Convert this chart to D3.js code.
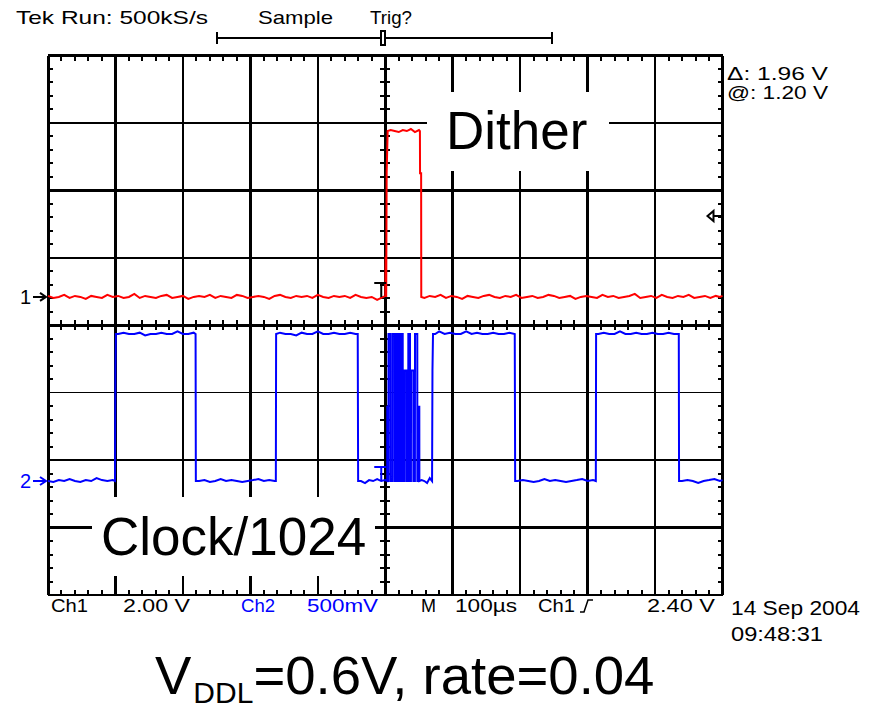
<!DOCTYPE html>
<html>
<head>
<meta charset="utf-8">
<script src="https://cdn.jsdelivr.net/npm/d3@7"></script>
<style>
  html, body { margin: 0; padding: 0; background: #fff; }
  svg { display: block; }
  .scope { font-family: "Liberation Sans", Arial, sans-serif; }
</style>
</head>
<body>
<svg id="chart" width="879" height="710"></svg>
<script>
// ---- Acquisition settings -------------------------------------------------
const timeTicksUs = [-500, -400, -300, -200, -100, 0, 100, 200, 300, 400, 500];
const divTicks = [-4, -3, -2, -1, 0, 1, 2, 3, 4];
const ch1VoltsPerDiv = 2.0;
const ch2VoltsPerDiv = 0.5;
const ch1GroundDiv = 0.42;   // channel 1 ground marker, divisions above centre
const ch2GroundDiv = -2.31;  // channel 2 ground marker
const cursorVolts = [3.16];  // active ch1 horizontal cursor (@ + Δ)
const triggerLevelVolts = 2.40;

// ---- Channel 1 (Dither), [time µs, volts] ---------------------------------
const ch1Trace = [
  [-500,0.03],[-492,-0.03],[-484,0.00],[-476,0.06],[-468,-0.03],[-460,0.03],[-452,0.00],[-444,-0.06],[-436,0.03],[-428,0.00],
  [-420,-0.03],[-412,0.06],[-404,0.00],[-396,0.03],[-388,-0.03],[-380,0.00],[-372,0.09],[-364,-0.03],[-356,0.03],[-348,0.00],
  [-340,-0.03],[-332,0.03],[-324,0.06],[-316,-0.03],[-308,0.00],[-300,0.03],[-292,-0.06],[-284,0.00],[-276,0.03],[-268,0.00],
  [-260,0.06],[-252,-0.03],[-244,0.03],[-236,0.00],[-228,-0.03],[-220,0.06],[-212,0.03],[-204,-0.03],[-196,0.00],[-188,0.03],
  [-180,0.00],[-172,-0.06],[-164,0.03],[-156,0.06],[-148,0.00],[-140,-0.03],[-132,0.03],[-124,0.00],[-116,0.03],[-108,-0.03],
  [-100,0.06],[-92,0.00],[-84,-0.03],[-76,0.03],[-68,0.00],[-60,0.03],[-52,-0.03],[-44,0.06],[-36,0.00],[-28,-0.03],
  [-20,0.00],[-12,-0.09],[-6,-0.03],[0,0.03],[0.6,1.20],[1.4,0.00],[2.1,3.70],[3.6,4.92],
  [8,4.95],[14,4.92],[20,4.89],[26,4.95],[32,4.92],[38,4.98],[44,4.89],[50,4.95],[51.4,4.92],[51.6,3.67],[53.2,3.67],[53.4,0.00],
  [58,-0.03],[66,0.03],[74,0.00],[82,0.06],[90,-0.03],[98,0.03],[106,0.00],[114,-0.06],[122,0.03],[130,0.00],
  [138,-0.03],[146,0.03],[154,0.06],[162,0.00],[170,-0.03],[178,0.03],[186,0.00],[194,0.06],[202,-0.03],[210,0.00],
  [218,0.03],[226,-0.03],[234,0.00],[242,0.06],[250,0.03],[258,-0.03],[266,0.00],[274,0.03],[282,-0.06],[290,0.00],
  [298,0.03],[306,0.00],[314,-0.03],[322,0.06],[330,0.00],[338,0.03],[346,-0.03],[354,0.00],[362,0.03],[370,0.09],
  [378,-0.03],[386,0.00],[394,0.03],[402,-0.03],[410,0.06],[418,0.00],[426,-0.03],[434,0.03],[442,0.00],[450,0.06],
  [458,-0.03],[466,0.00],[474,0.03],[482,-0.03],[490,0.03],[496,0.00],[500,0.03]
];

// ---- Channel 2 (Clock/1024), [time µs, volts] -----------------------------
const ch2Trace = [
  [-500,0.00],[-492,-0.007],[-484,0.007],[-476,0.00],[-468,0.015],[-460,0.00],[-452,-0.007],[-444,0.007],[-436,0.00],[-428,0.022],
  [-420,0.007],[-412,0.00],[-404,0.007],[-400.6,0.00],[-400,0.83],[-399.4,1.09],
  [-396,1.09],[-388,1.10],[-380,1.09],[-372,1.09],[-364,1.10],[-356,1.08],[-348,1.09],[-340,1.09],[-332,1.10],[-324,1.09],
  [-316,1.09],[-308,1.11],[-300,1.09],[-292,1.09],[-284,1.10],[-281.2,1.09],[-280.8,0.00],
  [-276,0.00],[-268,0.007],[-260,-0.007],[-252,0.00],[-244,0.015],[-236,0.00],[-228,0.007],[-220,0.00],[-212,-0.007],[-204,0.00],
  [-196,0.007],[-188,0.015],[-180,0.00],[-172,0.007],[-164,0.00],[-162.2,0.00],[-161.8,1.09],
  [-156,1.10],[-148,1.09],[-140,1.09],[-132,1.08],[-124,1.10],[-116,1.09],[-108,1.09],[-100,1.11],[-92,1.09],[-84,1.09],
  [-76,1.10],[-68,1.09],[-60,1.09],[-52,1.10],[-44,1.09],[-40.8,1.09],[-40.2,0.00],
  [-36,0.00],[-30,-0.015],[-24,0.007],[-18,0.00],[-12,0.015],[-6,0.00],[0,0.007],[2.9,0.00],
  // dither-driven burst right after the trigger
  [3.0,0.55],[3.6,0.55],[3.7,0.00],[4.7,0.00],[4.8,1.09],[7.8,1.09],[7.9,0.00],
  [10.9,0.00],[11.0,1.09],[14.0,1.09],[14.1,0.00],[16.9,0.00],[17.0,1.09],[18.9,1.09],[19.0,0.00],
  [21.0,0.00],[21.1,1.09],[22.9,1.09],[23.0,0.00],[24.3,0.00],[24.4,1.09],[25.9,1.09],[26.0,0.00],
  [28.7,0.00],[28.8,0.82],[31.8,0.82],[31.9,0.00],[34.1,0.00],[34.2,1.09],[36.7,1.09],[36.8,0.00],
  [38.1,0.00],[38.2,0.82],[41.6,0.82],[41.7,0.00],[44.0,0.00],[44.1,1.09],[47.5,1.09],[47.6,0.00],
  [48.9,0.00],[49.0,0.55],[50.5,0.55],[50.6,0.00],
  [54,0.007],[58,0.00],[62,-0.015],[66,0.022],[69.4,0.00],[70,0.82],[70.8,1.09],
  [74,1.09],[80,1.11],[88,1.09],[96,1.10],[104,1.09],[112,1.09],[120,1.11],[128,1.09],[136,1.10],[144,1.09],
  [152,1.09],[160,1.10],[168,1.09],[176,1.09],[184,1.10],[192,1.09],[192.6,0.00],
  [196,0.00],[204,0.007],[212,0.00],[220,-0.007],[228,0.00],[236,0.015],[244,0.00],[252,0.007],[260,0.00],[268,-0.007],
  [276,0.00],[284,0.007],[292,0.015],[300,0.00],[308,0.007],[312.2,0.00],[312.6,1.09],
  [316,1.09],[324,1.10],[332,1.09],[340,1.09],[348,1.11],[356,1.09],[364,1.09],[372,1.10],[380,1.09],[388,1.09],
  [396,1.10],[404,1.09],[412,1.09],[420,1.10],[428,1.09],[435.2,1.09],[435.6,0.00],
  [440,0.00],[448,0.007],[456,0.00],[464,-0.015],[472,0.00],[480,0.007],[488,0.015],[496,0.00],[500,0.007]
];

// ---- Readout texts --------------------------------------------------------
const headerTexts = [
  { text: "Tek Run: 500kS/s", x: 16, len: 192 },
  { text: "Sample", x: 258, len: 75 },
  { text: "Trig?", x: 370, len: 42 }
];
const footerTexts = [
  { text: "Ch1", x: 51, len: 37, color: "#000" },
  { text: "2.00 V", x: 123, len: 67, color: "#000" },
  { text: "Ch2", x: 241, len: 34, color: "#0000ff" },
  { text: "500mV", x: 307, len: 71, color: "#0000ff" },
  { text: "M", x: 421, len: 15, color: "#000" },
  { text: "100µs", x: 455, len: 62, color: "#000" },
  { text: "Ch1", x: 538, len: 37, color: "#000" },
  { text: "2.40 V", x: 647, len: 68, color: "#000" }
];
const cursorReadout = ["Δ: 1.96 V", "@: 1.20 V"];
const dateTexts = ["14 Sep 2004", "09:48:31"];
const traceLabels = ["Dither", "Clock/1024"];

// ---- Layout ---------------------------------------------------------------
const svg = d3.select("#chart");
const gridLeft = 48, gridRight = 722.5, gridTop = 55.5, gridBottom = 595;

const x = d3.scaleLinear().domain([-500, 500]).range([gridLeft, gridRight]);
const yDiv = d3.scaleLinear().domain([-4, 4]).range([gridBottom, gridTop]);
const y1 = v => yDiv(v / ch1VoltsPerDiv + ch1GroundDiv);
const y2 = v => yDiv(v / ch2VoltsPerDiv + ch2GroundDiv);

const cx = x(0), cy = yDiv(0);

const grid = svg.append("g").attr("shape-rendering", "crispEdges").attr("stroke", "#000");

// vertical graticule lines
grid.selectAll("line.v").data(timeTicksUs).join("line")
  .attr("x1", d => x(d)).attr("x2", d => x(d))
  .attr("y1", gridTop).attr("y2", gridBottom)
  .attr("stroke-width", d => (d === -500 || d === 500) ? 3 : 2.5);

// horizontal graticule lines
grid.selectAll("line.h").data(divTicks).join("line")
  .attr("x1", gridLeft).attr("x2", gridRight)
  .attr("y1", d => yDiv(d)).attr("y2", d => yDiv(d))
  .attr("stroke-width", d => (d === -1 || d === -2) ? 1.5 : 2.5);

// minor ticks: fifths of a division along the frame and the centre axes
const minorX = d3.range(-500, 500.1, 20).filter(t => t % 100 !== 0);
const minorY = d3.range(-4, 4.01, 0.2).map(v => Math.round(v * 10) / 10).filter(v => Math.abs(v - Math.round(v)) > 1e-6);
const tickLen = 5;
const ticks = grid.append("g").attr("stroke-width", 2);
minorX.forEach(t => {
  const xx = x(t);
  ticks.append("line").attr("x1", xx).attr("x2", xx).attr("y1", gridTop).attr("y2", gridTop + tickLen);
  ticks.append("line").attr("x1", xx).attr("x2", xx).attr("y1", gridBottom - tickLen).attr("y2", gridBottom);
  ticks.append("line").attr("x1", xx).attr("x2", xx).attr("y1", cy - tickLen).attr("y2", cy + tickLen);
});
minorY.forEach(v => {
  const yy = yDiv(v);
  ticks.append("line").attr("x1", gridLeft).attr("x2", gridLeft + tickLen).attr("y1", yy).attr("y2", yy);
  ticks.append("line").attr("x1", gridRight - tickLen).attr("x2", gridRight).attr("y1", yy).attr("y2", yy);
  ticks.append("line").attr("x1", cx - tickLen).attr("x2", cx + tickLen).attr("y1", yy).attr("y2", yy);
});

// horizontal cursor
svg.append("g").attr("shape-rendering", "crispEdges").selectAll("line").data(cursorVolts).join("line")
  .attr("x1", gridLeft + 32).attr("x2", gridRight - 34)
  .attr("y1", d => y1(d)).attr("y2", d => y1(d))
  .attr("stroke", "#000").attr("stroke-width", 3.5);

// label boxes knock out the graticule behind the big labels
const labelBoxes = [
  { text: traceLabels[0], x0: 427, x1: 609, y0: 92, y1: 171, tx: 446, ty: 149 },
  { text: traceLabels[1], x0: 92, x1: 375, y0: 497, y1: 576, tx: 101, ty: 555 }
];
svg.append("g").selectAll("rect").data(labelBoxes).join("rect")
  .attr("x", d => d.x0).attr("y", d => d.y0)
  .attr("width", d => d.x1 - d.x0).attr("height", d => d.y1 - d.y0)
  .attr("fill", "#fff");

// traces
const line1 = d3.line().x(d => x(d[0])).y(d => y1(d[1]));
const line2 = d3.line().x(d => x(d[0])).y(d => y2(d[1]));
svg.append("path").attr("d", line1(ch1Trace)).attr("fill", "none")
  .attr("stroke", "#ff0000").attr("stroke-width", 2).attr("stroke-linejoin", "miter");
svg.append("path").attr("d", line2(ch2Trace)).attr("fill", "none")
  .attr("stroke", "#0000ff").attr("stroke-width", 2).attr("stroke-linejoin", "miter");

// trigger-point markers on each trace
function triggerMark(yy, color) {
  svg.append("path")
    .attr("d", `M${cx - 11},${yy - 14} H${cx + 1} M${cx - 4},${yy - 14} V${yy}`)
    .attr("stroke", color).attr("stroke-width", 2).attr("fill", "none");
}
triggerMark(y1(0), "#000");
triggerMark(y2(0), "#0000ff");

// big labels
svg.append("g").attr("class", "scope").selectAll("text").data(labelBoxes).join("text")
  .attr("x", d => d.tx).attr("y", d => d.ty)
  .attr("font-size", 53).attr("fill", "#000")
  .text(d => d.text);

// ground markers
function groundMark(label, yy, color) {
  svg.append("text").attr("class", "scope").attr("x", 20).attr("y", yy + 7)
    .attr("font-size", 20).attr("fill", color).text(label);
  svg.append("path").attr("d", `M33,${yy} H46 M40,${yy - 4} L46,${yy} L40,${yy + 4}`)
    .attr("stroke", color).attr("stroke-width", 2).attr("fill", "none");
}
groundMark("1", y1(0), "#000");
groundMark("2", y2(0), "#0000ff");

// trigger level indicator on the right edge
const ty = y1(triggerLevelVolts);
svg.append("path")
  .attr("d", `M${gridRight - 15},${ty} L${gridRight - 9},${ty - 5} V${ty + 5} Z M${gridRight - 9},${ty} H${gridRight}`)
  .attr("stroke", "#000").attr("stroke-width", 2).attr("fill", "none");

// header: record-length bar with trigger position
const barY = 38, barL = 217, barR = 552;
const bar = svg.append("g").attr("stroke", "#000").attr("shape-rendering", "crispEdges");
bar.append("line").attr("x1", barL).attr("x2", barR).attr("y1", barY).attr("y2", barY).attr("stroke-width", 1.5);
bar.append("line").attr("x1", barL).attr("x2", barL).attr("y1", barY - 6).attr("y2", barY + 6).attr("stroke-width", 2);
bar.append("line").attr("x1", barR).attr("x2", barR).attr("y1", barY - 6).attr("y2", barY + 6).attr("stroke-width", 2);
bar.append("rect").attr("x", 381).attr("y", barY - 7).attr("width", 4).attr("height", 14)
  .attr("fill", "#fff").attr("stroke-width", 1.5);

svg.append("g").attr("class", "scope").selectAll("text").data(headerTexts).join("text")
  .attr("x", d => d.x).attr("y", 24).attr("font-size", 19)
  .attr("textLength", d => d.len).attr("lengthAdjust", "spacingAndGlyphs")
  .text(d => d.text);

// cursor readout
svg.append("g").attr("class", "scope").selectAll("text").data(cursorReadout).join("text")
  .attr("x", 727).attr("y", (d, i) => 80 + i * 19).attr("font-size", 18)
  .attr("textLength", 101).attr("lengthAdjust", "spacingAndGlyphs")
  .text(d => d);

// footer readout
svg.append("g").attr("class", "scope").selectAll("text").data(footerTexts).join("text")
  .attr("x", d => d.x).attr("y", 612).attr("font-size", 18)
  .attr("fill", d => d.color)
  .attr("textLength", d => d.len).attr("lengthAdjust", "spacingAndGlyphs")
  .text(d => d.text);
// rising-edge slope symbol after the trigger source
svg.append("path").attr("d", "M580,612 H584 L588,600 H593")
  .attr("stroke", "#000").attr("stroke-width", 1.5).attr("fill", "none");

svg.append("g").attr("class", "scope").selectAll("text").data(dateTexts).join("text")
  .attr("x", 731).attr("y", (d, i) => 615 + i * 26).attr("font-size", 20)
  .attr("textLength", (d, i) => i === 0 ? 129 : 92).attr("lengthAdjust", "spacingAndGlyphs")
  .text(d => d);

// caption
const cap = svg.append("text").attr("class", "scope").attr("x", 155).attr("y", 694)
  .attr("font-size", 54.5).attr("fill", "#000");
cap.append("tspan").text("V");
cap.append("tspan").attr("font-size", 30).attr("dx", 2).attr("dy", 9).text("DDL");
cap.append("tspan").attr("dy", -9).text("=0.6V, rate=0.04");
</script>
</body>
</html>
